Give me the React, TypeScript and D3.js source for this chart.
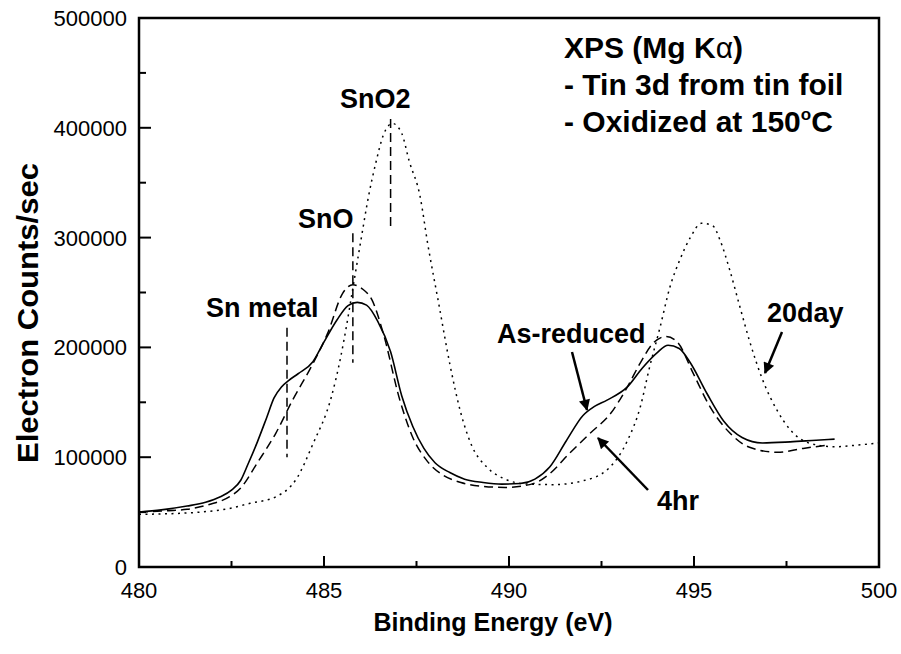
import React from "react";
import * as d3 from "d3";

// Sn 3d XPS spectra: [binding energy (eV), counts/sec]
const asReduced: [number, number][] = [
  [480, 50000], [480.6, 52000], [481.3, 55500], [481.8, 59000], [482.2, 64000],
  [482.5, 70000], [482.75, 79000], [482.95, 94000], [483.2, 114000], [483.45, 136000],
  [483.65, 154000], [483.85, 164000], [484.05, 170000], [484.3, 176000], [484.7, 187000],
  [485.0, 205000], [485.35, 225000], [485.65, 238000], [485.9, 241000], [486.15, 238500],
  [486.45, 224000], [486.8, 196000], [487.1, 156000], [487.4, 128000], [487.7, 108000],
  [488.0, 95000], [488.4, 86000], [488.8, 80000], [489.3, 77000], [489.8, 75500],
  [490.3, 76000], [490.7, 80000], [491.1, 91000], [491.55, 115000], [492.0, 138000],
  [492.3, 146000], [492.65, 152000], [493.2, 164000], [493.6, 181000], [494.0, 195000],
  [494.3, 202000], [494.6, 199000], [494.9, 186000], [495.35, 158000], [495.8, 133000],
  [496.3, 118000], [496.85, 113000], [497.6, 114000], [498.3, 115500], [498.8, 116500],
];

const fourHr: [number, number][] = [
  [480, 50000], [480.6, 51000], [481.3, 52500], [481.9, 57000], [482.45, 64000],
  [482.75, 72000], [483.2, 95000], [483.7, 122000], [484.15, 152000], [484.65, 182000],
  [485.1, 213000], [485.5, 249000], [485.78, 257000], [486.05, 253000], [486.3, 243000],
  [486.6, 213000], [487.05, 152000], [487.4, 118000], [487.8, 96000], [488.2, 84000],
  [488.7, 77000], [489.3, 73500], [489.9, 72500], [490.4, 74000], [490.8, 78000],
  [491.1, 85000], [491.65, 104000], [492.2, 122000], [492.75, 140000], [493.2, 164000],
  [493.55, 186000], [493.9, 204000], [494.25, 210000], [494.57, 204000], [494.97, 177000],
  [495.43, 146000], [495.97, 122000], [496.5, 109000], [497.25, 104500], [497.95, 108000],
  [498.6, 111000],
];

const twentyDay: [number, number][] = [
  [480, 48000], [480.8, 48500], [481.65, 50000], [482.4, 53000], [483.0, 58000],
  [483.7, 64000], [484.25, 80000], [484.7, 112000], [485.2, 155000], [485.45, 191000],
  [485.6, 218000], [485.8, 258000], [486.0, 298000], [486.2, 337000], [486.4, 368000],
  [486.6, 393000], [486.85, 404000], [487.1, 395000], [487.3, 370000], [487.6, 337000],
  [487.8, 295000], [488.1, 240000], [488.4, 185000], [488.7, 140000], [489.0, 110000],
  [489.4, 91000], [489.9, 80000], [490.5, 75500], [491.2, 75000], [492.0, 78500],
  [492.7, 90000], [493.2, 115000], [493.55, 146000], [493.8, 182000], [494.08, 218000],
  [494.35, 255000], [494.62, 280000], [494.9, 300000], [495.2, 313000], [495.5, 311000],
  [495.7, 298000], [495.97, 270000], [496.24, 237000], [496.5, 206000], [496.86, 170000],
  [497.24, 143000], [497.6, 125000], [498.1, 113000], [498.8, 109500], [499.4, 111000],
  [500, 113000],
];

// reference lines for the chemical states: [name, energy, top, bottom]
const stateLines: [string, number, number, number][] = [
  ["Sn metal", 484.0, 218000, 100000],
  ["SnO", 485.78, 304000, 186000],
  ["SnO2", 486.8, 408000, 310000],
];

const xTicks = [480, 485, 490, 495, 500];
const xMinor = [482.5, 487.5, 492.5, 497.5];
const yTicks = [0, 100000, 200000, 300000, 400000, 500000];
const yMinor = [50000, 150000, 250000, 350000, 450000];

const FONT = "'Liberation Sans', Arial, Helvetica, sans-serif";

export default function App() {
  const W = 901;
  const H = 654;
  const x = d3.scaleLinear().domain([480, 500]).range([139, 879]);
  const y = d3.scaleLinear().domain([0, 500000]).range([567, 18]);

  const line = d3
    .line<[number, number]>()
    .x((d) => x(d[0]))
    .y((d) => y(d[1]))
    .curve(d3.curveMonotoneX);

  // arrows in pixel space: tail -> tip
  const arrows = [
    [572, 352, 587, 410],
    [648, 490, 598, 438],
    [782, 332, 765, 373],
  ];

  const labels: [string, number, number][] = [
    ["SnO2", 340, 108],
    ["SnO", 298, 228],
    ["Sn metal", 206, 317],
    ["As-reduced", 497, 343],
    ["4hr", 657, 510],
    ["20day", 767, 322],
  ];

  return (
    <svg
      width={W}
      height={H}
      style={{ position: "absolute", left: 0, top: 0, background: "#fff" }}
      fontFamily={FONT}
    >
      <defs>
        <marker
          id="head"
          viewBox="0 0 10 10"
          refX="9"
          refY="5"
          markerWidth="6"
          markerHeight="4.5"
          orient="auto"
          markerUnits="strokeWidth"
        >
          <path d="M0,0 L10,5 L0,10 z" fill="#000" />
        </marker>
      </defs>

      {/* curves */}
      <path d={line(twentyDay) || ""} fill="none" stroke="#000" strokeWidth={1.5} strokeDasharray="2,4.5" />
      <path d={line(fourHr) || ""} fill="none" stroke="#000" strokeWidth={1.5} strokeDasharray="9,5" />
      <path d={line(asReduced) || ""} fill="none" stroke="#000" strokeWidth={1.6} />

      {/* state markers */}
      {stateLines.map(([k, e, a, b]) => (
        <line key={k} x1={x(e)} x2={x(e)} y1={y(a)} y2={y(b)} stroke="#000" strokeWidth={1.5} strokeDasharray="9,5" />
      ))}

      {/* arrows */}
      {arrows.map(([x0, y0, x1, y1], i) => (
        <line key={i} x1={x0} y1={y0} x2={x1} y2={y1} stroke="#000" strokeWidth={2.5} markerEnd="url(#head)" />
      ))}

      {/* frame */}
      <rect x={139} y={18} width={740} height={549} fill="none" stroke="#000" strokeWidth={2.5} />

      {/* ticks */}
      {xTicks.map((t) => (
        <g key={t}>
          <line x1={x(t)} x2={x(t)} y1={567} y2={556} stroke="#000" strokeWidth={2} />
          <text x={x(t)} y={598} fontSize={22} textAnchor="middle">{t}</text>
        </g>
      ))}
      {xMinor.map((t) => (
        <line key={t} x1={x(t)} x2={x(t)} y1={567} y2={561} stroke="#000" strokeWidth={2} />
      ))}
      {yTicks.map((t) => (
        <g key={t}>
          <line x1={139} x2={151} y1={y(t)} y2={y(t)} stroke="#000" strokeWidth={2} />
          <text x={127} y={y(t) + 8} fontSize={22} textAnchor="end">{t}</text>
        </g>
      ))}
      {yMinor.map((t) => (
        <line key={t} x1={139} x2={146} y1={y(t)} y2={y(t)} stroke="#000" strokeWidth={2} />
      ))}

      {/* axis titles */}
      <text x={493} y={631} fontSize={25} fontWeight="bold" textAnchor="middle">
        Binding Energy (eV)
      </text>
      <text
        transform="translate(38,313) rotate(-90)"
        fontSize={29}
        fontWeight="bold"
        textAnchor="middle"
        textLength={300}
        lengthAdjust="spacingAndGlyphs"
      >
        Electron Counts/sec
      </text>

      {/* annotations */}
      {labels.map(([s, lx, ly]) => (
        <text key={s} x={lx} y={ly} fontSize={27} fontWeight="bold">{s}</text>
      ))}

      <g fontSize={30} fontWeight="bold">
        <text x={564} y={58}>
          XPS (Mg K<tspan fontWeight="normal">α</tspan>)
        </text>
        <text x={564} y={95}>- Tin 3d from tin foil</text>
        <text x={564} y={132}>
          - Oxidized at 150<tspan fontSize={17} dy={-12}>o</tspan>
          <tspan dy={12}>C</tspan>
        </text>
      </g>
    </svg>
  );
}
